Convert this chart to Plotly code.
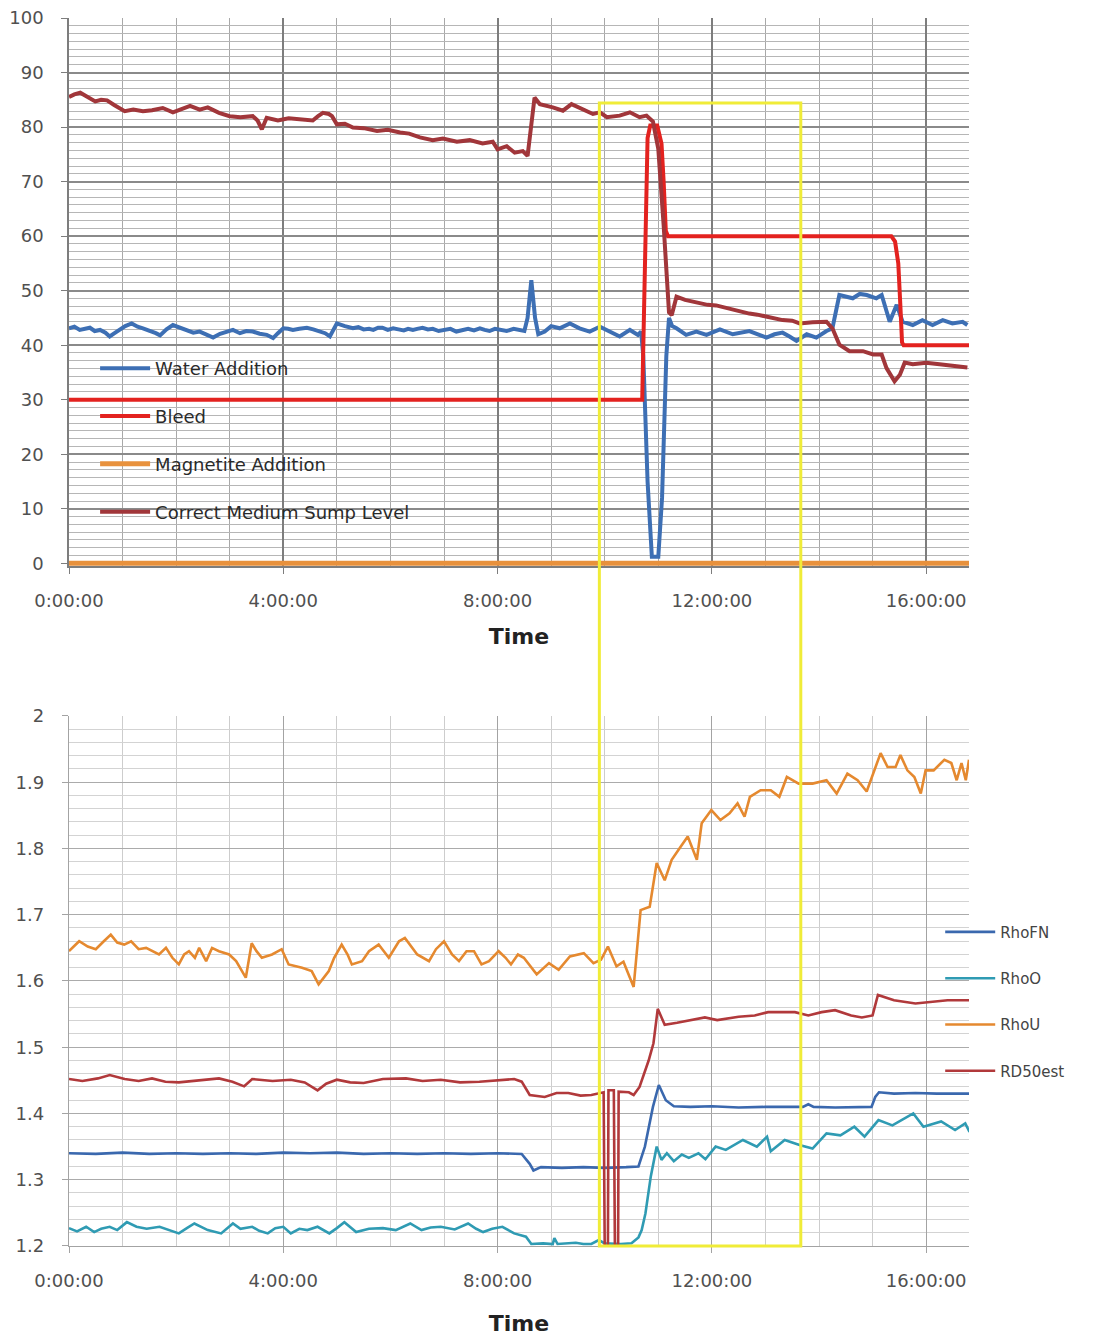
import plotly.graph_objects as go

# ---------------- data (hours since 0:00:00) ----------------
water_t = [0.0, 0.1, 0.2, 0.3, 0.39, 0.48, 0.58, 0.68, 0.76, 0.85, 0.95, 1.05, 1.17, 1.28, 1.38, 1.46, 1.55, 1.62, 1.7,
           1.82, 1.94, 2.06, 2.2, 2.32, 2.44, 2.56, 2.69, 2.82, 2.94, 3.06, 3.19, 3.31, 3.43, 3.56, 3.69, 3.81,
           3.9, 4.0, 4.09, 4.18, 4.3, 4.44, 4.56, 4.68, 4.78, 4.87, 5.0, 5.15, 5.3, 5.4, 5.5, 5.6, 5.68, 5.77, 5.85,
           5.95, 6.05, 6.15, 6.25, 6.33, 6.42, 6.5, 6.6, 6.7, 6.79, 6.9, 7.0, 7.12, 7.23, 7.34, 7.45, 7.56, 7.67,
           7.76, 7.85, 7.95, 8.04, 8.17, 8.3, 8.4, 8.5, 8.56, 8.63, 8.7, 8.76, 8.88, 9.0, 9.16, 9.35, 9.53, 9.72, 9.91,
           10.09, 10.28, 10.47, 10.62, 10.68, 10.72, 10.8, 10.88, 11.0, 11.07, 11.15, 11.2, 11.26, 11.34, 11.52, 11.71,
           11.9, 12.08, 12.15, 12.39, 12.55, 12.7, 12.86, 13.02, 13.17, 13.32, 13.45, 13.58, 13.77, 13.95, 14.14,
           14.25, 14.38, 14.5, 14.63, 14.76, 14.89, 15.07, 15.17, 15.32, 15.45, 15.56, 15.75, 15.93, 16.12, 16.31,
           16.49, 16.68, 16.77]
water_v = [43.1, 43.4, 42.8, 43.0, 43.2, 42.6, 42.8, 42.3, 41.6, 42.2, 42.8, 43.5, 44.0, 43.4, 43.1, 42.8, 42.6, 42.2,
           41.8, 42.9, 43.7, 43.2, 42.8, 42.3, 42.5, 42.0, 41.4, 42.1, 42.5, 42.8, 42.2, 42.6, 42.5, 42.1, 41.9, 41.3,
           42.2, 43.1, 43.0, 42.8, 43.0, 43.2, 42.9, 42.5, 42.2, 41.6, 44.0, 43.5, 43.1, 43.3, 42.9, 43.0, 42.8, 43.2,
           43.2, 42.8, 43.1, 42.9, 42.7, 43.0, 42.8, 43.0, 43.2, 42.9, 43.0, 42.6, 42.7, 43.0, 42.5, 42.8, 43.0,
           42.7, 43.1, 42.8, 42.6, 43.0, 42.8, 42.6, 43.0, 42.8, 42.6, 45.0, 51.9, 45.0, 42.0, 42.5, 43.5, 43.1,
           44.0, 43.1, 42.5, 43.4, 42.5, 41.6, 42.8, 41.9, 42.5, 38.0, 15.0, 1.2, 1.2, 12.0, 38.0, 45.0, 43.5, 43.1,
           41.9, 42.5, 41.9, 42.5, 42.9, 42.0, 42.4, 42.6, 42.0, 41.4, 42.0, 42.3, 41.6, 40.8, 42.0, 41.4, 42.6,
           43.1, 49.2, 49.0, 48.6, 49.4, 49.2, 48.6, 49.2, 44.3, 47.4, 44.3, 43.7, 44.6, 43.7, 44.6, 44.0, 44.3, 43.7]

bleed_t = [0.0, 10.7, 10.8, 10.85, 10.98, 11.06, 11.1, 11.14, 11.18, 15.35, 15.42, 15.48, 15.52, 15.55, 15.58, 16.8]
bleed_v = [30, 30, 78, 80.3, 80.3, 77, 70, 61, 60, 60, 59, 55, 47, 40.5, 40, 40]

magnetite_t = [0.0, 16.8]
magnetite_v = [0, 0]

sump_t = [0.0, 0.1, 0.21, 0.35, 0.49, 0.6, 0.71, 0.85, 1.04, 1.2, 1.38, 1.55, 1.75, 1.94, 2.1, 2.26, 2.44, 2.59, 2.8,
          3.0, 3.2, 3.43, 3.52, 3.6, 3.69, 3.9, 4.1, 4.31, 4.55, 4.65, 4.74, 4.85, 4.91, 5.0, 5.15, 5.3, 5.5, 5.75,
          5.95, 6.18, 6.35, 6.55, 6.79, 6.98, 7.24, 7.48, 7.72, 7.91, 8.0, 8.17, 8.32, 8.47, 8.56, 8.69, 8.79, 9.03,
          9.22, 9.38, 9.57, 9.78, 9.91, 10.04, 10.28, 10.47, 10.65, 10.78, 10.9, 11.0, 11.1, 11.2, 11.25, 11.34, 11.5,
          11.64, 11.77, 11.92, 12.08, 12.25, 12.39, 12.55, 12.7, 12.85, 13.02, 13.18, 13.32, 13.5, 13.64, 13.88, 14.14,
          14.25, 14.38, 14.57, 14.82, 15.01, 15.17, 15.26, 15.41, 15.51, 15.6, 15.75, 16.0, 16.25, 16.49, 16.77]
sump_v = [85.5, 86.0, 86.3, 85.5, 84.7, 85.0, 84.9, 84.0, 82.9, 83.2, 82.9, 83.1, 83.5, 82.7, 83.3, 83.9, 83.2, 83.6, 82.6,
          82.0, 81.8, 82.0, 81.2, 79.6, 81.7, 81.2, 81.6, 81.4, 81.2, 82.0, 82.6, 82.4, 82.0, 80.5, 80.6, 79.9, 79.8, 79.3,
          79.5, 79.0, 78.8, 78.1, 77.6, 77.9, 77.3, 77.6, 77.0, 77.3, 75.9, 76.5, 75.3, 75.6, 74.7, 85.4, 84.2, 83.6,
          83.0, 84.2, 83.3, 82.4, 82.7, 81.8, 82.1, 82.7, 81.8, 82.1, 81.0, 76.0, 62.0, 46.0, 45.5, 48.9, 48.3,
          48.0, 47.9, 47.4, 47.3, 46.9, 46.4, 46.2, 45.8, 45.6, 45.2, 45.0, 44.6, 44.5, 44.0, 44.2, 44.3,
          43.1, 40.1, 38.9, 38.9, 38.3, 38.3, 35.8, 33.4, 34.6, 36.8, 36.5, 36.8, 36.5, 36.2, 35.9]

rhofn_t = [0.0, 0.5, 1.0, 1.5, 2.0, 2.5, 3.0, 3.5, 4.0, 4.5, 5.0, 5.5, 6.0, 6.5, 7.0, 7.5, 8.0, 8.45, 8.6, 8.67, 8.81,
           9.2, 9.6, 10.0, 10.4, 10.63, 10.75, 10.9, 11.01, 11.08, 11.14, 11.29, 11.6, 12.0, 12.5, 13.0, 13.5, 13.7,
           13.8, 13.9, 14.3, 14.7, 14.98, 15.05, 15.12, 15.4, 15.8, 16.2, 16.8]
rhofn_v = [1.34, 1.339, 1.341, 1.339, 1.34, 1.339, 1.34, 1.339, 1.341, 1.34, 1.341, 1.339, 1.34, 1.339, 1.34, 1.339,
           1.34, 1.339, 1.324, 1.314, 1.319, 1.318, 1.319, 1.318, 1.319, 1.32, 1.35, 1.41, 1.443, 1.43, 1.42, 1.411,
           1.41, 1.411, 1.409, 1.41, 1.41, 1.41, 1.414, 1.41, 1.409, 1.41, 1.41, 1.425, 1.432, 1.43, 1.431, 1.43, 1.43]

rhoo_t = [0.0, 0.15, 0.32, 0.47, 0.6, 0.76, 0.9, 1.08, 1.26, 1.45, 1.69, 1.85, 2.05, 2.2, 2.34, 2.59, 2.84, 3.06, 3.2,
          3.42, 3.55, 3.71, 3.85, 4.0, 4.14, 4.3, 4.45, 4.64, 4.86, 5.0, 5.14, 5.36, 5.6, 5.86, 6.1, 6.37, 6.58, 6.75,
          6.94, 7.2, 7.45, 7.6, 7.73, 7.9, 8.09, 8.31, 8.53, 8.63, 8.85, 9.03, 9.06, 9.12, 9.3, 9.46, 9.6, 9.75, 9.89,
          10.0, 10.3, 10.5, 10.63, 10.69, 10.76, 10.86, 10.97, 11.06, 11.16, 11.29, 11.44, 11.57, 11.75, 11.88, 12.07,
          12.26, 12.58, 12.84, 13.03, 13.1, 13.36, 13.65, 13.88, 14.14, 14.4, 14.66, 14.85, 15.11, 15.37, 15.76, 15.95,
          16.28, 16.54, 16.73, 16.81]
rhoo_v = [1.227, 1.222, 1.229, 1.221, 1.226, 1.229, 1.224, 1.236, 1.229, 1.226, 1.229, 1.225, 1.219, 1.227, 1.234,
          1.224, 1.219, 1.234, 1.226, 1.229, 1.223, 1.219, 1.227, 1.229, 1.219, 1.226, 1.224, 1.229, 1.219, 1.227,
          1.236, 1.221, 1.226, 1.227, 1.224, 1.234, 1.224, 1.228, 1.229, 1.225, 1.234, 1.226, 1.221, 1.226, 1.229,
          1.219, 1.214, 1.203, 1.204, 1.203, 1.212, 1.203, 1.204, 1.205, 1.203, 1.203, 1.209, 1.204, 1.203, 1.204,
          1.213, 1.224, 1.249, 1.305, 1.35, 1.33, 1.34, 1.328, 1.338, 1.333, 1.34, 1.331, 1.35, 1.345, 1.36, 1.35,
          1.365, 1.343, 1.36, 1.352, 1.347, 1.37, 1.367, 1.38, 1.365, 1.39, 1.382, 1.4, 1.38, 1.388, 1.375, 1.385, 1.372]

rhou_t = [0.0, 0.19, 0.35, 0.5, 0.65, 0.78, 0.9, 1.03, 1.16, 1.3, 1.44, 1.56, 1.68, 1.81, 1.93, 2.05, 2.15, 2.24, 2.35,
          2.43, 2.56, 2.67, 2.8, 2.99, 3.12, 3.3, 3.41, 3.5, 3.6, 3.79, 3.97, 4.1, 4.35, 4.53, 4.66, 4.85, 4.95, 5.09,
          5.2, 5.28, 5.47, 5.6, 5.78, 5.97, 6.16, 6.27, 6.5, 6.72, 6.85, 7.0, 7.15, 7.28, 7.42, 7.56, 7.7, 7.84, 8.02,
          8.15, 8.25, 8.38, 8.49, 8.73, 8.96, 9.14, 9.35, 9.61, 9.79, 9.93, 10.06, 10.22, 10.35, 10.54, 10.67, 10.84,
          10.97, 11.12, 11.25, 11.42, 11.55, 11.72, 11.81, 11.99, 12.16, 12.33, 12.48, 12.61, 12.71, 12.91, 13.1,
          13.26, 13.4, 13.62, 13.88, 14.14, 14.33, 14.53, 14.72, 14.89, 15.04, 15.15, 15.28, 15.43, 15.52, 15.65,
          15.78, 15.9, 15.99, 16.14, 16.34, 16.47, 16.57, 16.66, 16.74, 16.8]
rhou_v = [1.645, 1.66, 1.652, 1.648, 1.66, 1.67, 1.658, 1.655, 1.66, 1.648, 1.65, 1.645, 1.64, 1.65, 1.635, 1.625,
          1.64, 1.645, 1.635, 1.65, 1.63, 1.65, 1.645, 1.64, 1.63, 1.605, 1.657, 1.645, 1.635, 1.64, 1.648, 1.625,
          1.62, 1.615, 1.595, 1.615, 1.635, 1.655, 1.64, 1.625, 1.63, 1.645, 1.655, 1.635, 1.66, 1.665, 1.64, 1.63,
          1.648, 1.66, 1.64, 1.63, 1.645, 1.645, 1.625, 1.63, 1.645, 1.635, 1.625, 1.64, 1.635, 1.61, 1.627, 1.617,
          1.637, 1.642, 1.627, 1.632, 1.652, 1.622, 1.629, 1.591, 1.707, 1.712, 1.778, 1.752, 1.783, 1.803, 1.818,
          1.783, 1.838, 1.858, 1.843, 1.853, 1.868, 1.848, 1.878, 1.888, 1.888, 1.878, 1.908, 1.898, 1.898, 1.903,
          1.883, 1.913, 1.903, 1.886, 1.918, 1.944, 1.923, 1.923, 1.941, 1.918, 1.908, 1.883, 1.918, 1.918, 1.934,
          1.929, 1.903, 1.929, 1.903, 1.934]

rd50_t = [0.0, 0.25, 0.54, 0.76, 1.04, 1.3, 1.55, 1.8, 2.05, 2.4, 2.8, 3.05, 3.27, 3.42, 3.8, 4.14, 4.4, 4.64, 4.8, 5.0,
          5.25, 5.5, 5.86, 6.29, 6.6, 6.94, 7.3, 7.66, 8.0, 8.31, 8.45, 8.6, 8.88, 9.1, 9.32, 9.55, 9.75, 9.98, 10.0,
          10.06, 10.07, 10.17, 10.19, 10.25, 10.26, 10.45, 10.54, 10.65, 10.82, 10.91, 10.99, 11.12, 11.35, 11.6,
          11.87, 12.1, 12.5, 12.8, 13.05, 13.3, 13.55, 13.8, 14.05, 14.3, 14.6, 14.8, 15.0, 15.1, 15.4, 15.8, 16.05,
          16.4, 16.8]
rd50_v = [1.452, 1.449, 1.453, 1.458, 1.452, 1.449, 1.453, 1.448, 1.447, 1.45, 1.453, 1.448, 1.441, 1.452, 1.449,
          1.451, 1.447, 1.435, 1.445, 1.451, 1.447, 1.446, 1.452, 1.453, 1.449, 1.451, 1.447, 1.448, 1.45, 1.452,
          1.448, 1.428, 1.425, 1.431, 1.431, 1.427, 1.428, 1.432, 1.2, 1.2, 1.435, 1.435, 1.2, 1.2, 1.433, 1.432,
          1.428, 1.44, 1.48, 1.506, 1.558, 1.534, 1.537, 1.541, 1.545, 1.541, 1.546, 1.548, 1.553, 1.553, 1.553,
          1.548, 1.553, 1.556, 1.548, 1.545, 1.548, 1.579, 1.571, 1.566, 1.568, 1.571, 1.571]

tick_hours = [0, 4, 8, 12, 16]
tick_labels = ["0:00:00", "4:00:00", "8:00:00", "12:00:00", "16:00:00"]
top_y_ticks = [0, 10, 20, 30, 40, 50, 60, 70, 80, 90, 100]
bot_y_ticks = [1.2, 1.3, 1.4, 1.5, 1.6, 1.7, 1.8, 1.9, 2.0]
bot_y_labels = ["1.2", "1.3", "1.4", "1.5", "1.6", "1.7", "1.8", "1.9", "2"]

# ---------------- figure ----------------
FONT = "DejaVu Sans"
fig = go.Figure()

top_series = [
    ("Water Addition", water_t, water_v, "#3d6fb4", 4),
    ("Bleed", bleed_t, bleed_v, "#e3221f", 4),
    ("Magnetite Addition", magnetite_t, magnetite_v, "#e8913c", 5),
    ("Correct Medium Sump Level", sump_t, sump_v, "#a1363a", 4),
]
for name, t, v, col, w in top_series:
    fig.add_trace(go.Scatter(x=t, y=v, name=name, mode="lines", xaxis="x", yaxis="y",
                             line=dict(color=col, width=w), legend="legend", legendgroup=name))

bot_series = [
    ("RhoFN", rhofn_t, rhofn_v, "#3a68ae"),
    ("RhoO", rhoo_t, rhoo_v, "#2f9bb3"),
    ("RhoU", rhou_t, rhou_v, "#e5892f"),
    ("RD50est", rd50_t, rd50_v, "#b1393b"),
]
for name, t, v, col in bot_series:
    fig.add_trace(go.Scatter(x=t, y=v, name=name, mode="lines", xaxis="x2", yaxis="y2",
                             line=dict(color=col, width=2.6), legend="legend2", legendgroup=name))

TOP_DOM = [0.5537, 1.0]
BOT_DOM = [0.0, 0.4316]

xcommon = dict(range=[0, 16.8], tickmode="array", tickvals=tick_hours, ticktext=tick_labels,
               ticks="outside", ticklen=6, showline=True, zeroline=False, layer="below traces",
               automargin=False,
               tickfont=dict(family=FONT, size=18, color="#505050"), ticklabelstandoff=12)

fig.update_layout(
    width=1094, height=1336,
    margin=dict(l=69, r=125, t=18, b=90, autoexpand=False),
    paper_bgcolor="white", plot_bgcolor="white",
    font=dict(family=FONT, color="#333333"),
    showlegend=True,
    xaxis=dict(xcommon, anchor="y", domain=[0, 1],
               gridcolor="#7d7d7d", gridwidth=1.6, linecolor="#7d7d7d", linewidth=1.5, tickcolor="#7d7d7d",
               minor=dict(dtick=1, showgrid=True, gridcolor="#a8a8a8", gridwidth=1.2),
               title=dict(text="<b>Time</b>", font=dict(family=FONT, size=22, color="#222222"), standoff=18)),
    yaxis=dict(domain=TOP_DOM, anchor="x", range=[-0.5, 100], tickmode="array", tickvals=top_y_ticks,
               ticks="outside", ticklen=6, showline=True, zeroline=False, layer="below traces",
               automargin=False,
               linecolor="#7d7d7d", linewidth=1.5, tickcolor="#7d7d7d",
               gridcolor="#8a8a8a", gridwidth=1.8,
               minor=dict(dtick=10 / 7, showgrid=True, gridcolor="#b6b6b6", gridwidth=1.3),
               tickfont=dict(family=FONT, size=18, color="#505050"), ticklabelstandoff=14),
    xaxis2=dict(xcommon, anchor="y2", domain=[0, 1],
                gridcolor="#a3a3a3", gridwidth=1.3, linecolor="#a3a3a3", linewidth=1.3, tickcolor="#a3a3a3",
                minor=dict(dtick=1, showgrid=True, gridcolor="#cdcdcd", gridwidth=1),
                title=dict(text="<b>Time</b>", font=dict(family=FONT, size=22, color="#222222"), standoff=26)),
    yaxis2=dict(domain=BOT_DOM, anchor="x2", range=[1.2, 2.0], tickmode="array", tickvals=bot_y_ticks,
                ticktext=bot_y_labels, ticks="outside", ticklen=6, showline=True, zeroline=False,
                linecolor="#a3a3a3", linewidth=1.3, tickcolor="#a3a3a3", layer="below traces",
                automargin=False,
                gridcolor="#ababab", gridwidth=1.4,
                minor=dict(dtick=0.02, showgrid=True, gridcolor="#d3d3d3", gridwidth=1),
                tickfont=dict(family=FONT, size=18, color="#505050"), ticklabelstandoff=14),
    legend=dict(x=0.029, y=0.7296, xanchor="left", yanchor="top", bgcolor="rgba(0,0,0,0)",
                font=dict(family=FONT, size=18, color="#2a2a2a"), tracegroupgap=21.4, itemwidth=50,
                traceorder="grouped"),
    legend2=dict(x=0.968, y=0.2690, xanchor="left", yanchor="top", bgcolor="rgba(0,0,0,0)",
                 font=dict(family=FONT, size=15, color="#444444"), tracegroupgap=23.8, itemwidth=50,
                 traceorder="grouped"),
    shapes=[dict(type="rect", xref="x", yref="paper", x0=9.9, x1=13.66, y0=0.0, y1=0.9308,
                 line=dict(color="#f0ec38", width=3), fillcolor="rgba(0,0,0,0)", layer="above")],
)

fig.write_html("out.html")
